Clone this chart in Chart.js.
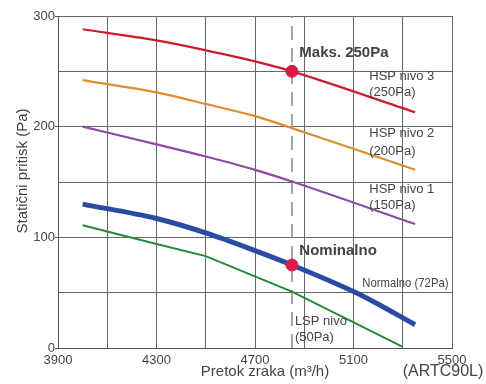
<!DOCTYPE html>
<html>
<head>
<meta charset="utf-8">
<script src="https://cdn.jsdelivr.net/npm/chart.js@4/dist/chart.umd.min.js"></script>
<style>
  html, body { margin: 0; padding: 0; background: #fff; }
  #wrap { width: 486px; height: 384px; }
</style>
</head>
<body>
<div id="wrap"><canvas id="canvas1"></canvas></div>
<script>
// airflow (m3/h) and static pressure (Pa)
var hsp3Flow = [4000, 4300, 4500, 4700, 4850, 5350];
var hsp3Pa   = [288, 278, 269, 259, 250, 213];
var hsp2Flow = [4000, 4300, 4500, 4700, 4900, 5100, 5350];
var hsp2Pa   = [242, 231, 220.5, 209.5, 195, 180, 161];
var hsp1Flow = [4000, 4300, 4500, 4700, 4850, 5350];
var hsp1Pa   = [200, 184, 173, 161, 150.5, 112];
var normFlow = [4000, 4300, 4500, 4700, 4850, 5100, 5180, 5350];
var normPa   = [130, 117, 104, 88, 75, 51, 42, 21];
var lspFlow  = [4000, 4300, 4500, 4850, 5300];
var lspPa    = [111, 94, 83, 51, 1];
var pointFlow = [4850, 4850];
var pointPa   = [250, 75];
var refFlow = 4850;

var xTickLabels = [3900, 4300, 4700, 5100, 5500];
var yTickLabels = [0, 100, 200, 300];

function toXY(xs, ys){
    var out = [];
    for(var i=0; i < xs.length; i++){
        out.push({x: xs[i], y: ys[i]});
    }
    return out;
}

var gray = '#444';

var textPlugin = {
    id: 'texts',
    afterDraw: function(chart){
        var c = chart.ctx;
        var xs = chart.scales.x, ys = chart.scales.y;
        c.save();
        c.fillStyle = gray;
        c.textBaseline = 'middle';
        c.textAlign = 'left';
        // notes next to the curves (last entry = horizontal squeeze)
        var notes = [
            ['Maks. 250Pa', 4880, 267, 'bold 15px "Liberation Sans", Arial', 1],
            ['HSP nivo 3', 5164, 245, '13px "Liberation Sans", Arial', 1],
            ['(250Pa)', 5164, 230.5, '13px "Liberation Sans", Arial', 1],
            ['HSP nivo 2', 5164, 193.5, '13px "Liberation Sans", Arial', 1],
            ['(200Pa)', 5164, 178, '13px "Liberation Sans", Arial', 1],
            ['HSP nivo 1', 5164, 143, '13px "Liberation Sans", Arial', 1],
            ['(150Pa)', 5164, 128.5, '13px "Liberation Sans", Arial', 1],
            ['Nominalno', 4880, 88, 'bold 15px "Liberation Sans", Arial', 1],
            ['Normalno (72Pa)', 5136, 58.5, '13px "Liberation Sans", Arial', 0.87],
            ['LSP nivo', 4862, 24, '13px "Liberation Sans", Arial', 1],
            ['(50Pa)', 4862, 10, '13px "Liberation Sans", Arial', 1]
        ];
        notes.forEach(function(n){
            c.save();
            c.font = n[3];
            c.translate(xs.getPixelForValue(n[1]), ys.getPixelForValue(n[2]));
            c.scale(n[4], 1);
            c.fillText(n[0], 0, 0);
            c.restore();
        });
        // axis titles
        c.font = '15px "Liberation Sans", Arial';
        c.textAlign = 'center';
        c.fillText('Pretok zraka (m\u00b3/h)', 265, 372);
        c.font = '16px "Liberation Sans", Arial';
        c.fillText('(ARTC90L)', 443, 372);
        c.translate(23, 171);
        c.rotate(-Math.PI/2);
        c.font = '15px "Liberation Sans", Arial';
        c.fillText('Stati\u010dni pritisk (Pa)', 0, 0);
        c.restore();
    }
};

var chartdata = {
    datasets: [
        {
            label: 'ref',
            data: [{x: refFlow, y: 0}, {x: refFlow, y: 300}],
            borderColor: '#8a8a8a',
            borderWidth: 1.5,
            borderDash: [14, 8],
            pointRadius: 0,
            order: 5
        },
        {
            label: 'HSP nivo 3',
            data: toXY(hsp3Flow, hsp3Pa),
            borderColor: '#c71f2f',
            borderWidth: 2.2,
            cubicInterpolationMode: 'monotone',
            pointRadius: 0,
            order: 4
        },
        {
            label: 'HSP nivo 2',
            data: toXY(hsp2Flow, hsp2Pa),
            borderColor: '#e08c2c',
            borderWidth: 2.2,
            cubicInterpolationMode: 'monotone',
            pointRadius: 0,
            order: 4
        },
        {
            label: 'HSP nivo 1',
            data: toXY(hsp1Flow, hsp1Pa),
            borderColor: '#8e4aa6',
            borderWidth: 2.2,
            cubicInterpolationMode: 'monotone',
            pointRadius: 0,
            order: 4
        },
        {
            label: 'LSP nivo',
            data: toXY(lspFlow, lspPa),
            borderColor: '#23893b',
            borderWidth: 2,
            pointRadius: 0,
            order: 4
        },
        {
            label: 'Normalno',
            data: toXY(normFlow, normPa),
            borderColor: '#2b4ba3',
            borderWidth: 5,
            cubicInterpolationMode: 'monotone',
            pointRadius: 0,
            order: 3
        },
        {
            label: 'points',
            data: toXY(pointFlow, pointPa),
            showLine: false,
            pointRadius: 6,
            pointBackgroundColor: '#d81c45',
            pointBorderColor: '#d81c45',
            order: 1
        }
    ]
};

var ctx = document.getElementById('canvas1');
var lineGraph = new Chart(ctx, {
    type: 'line',
    data: chartdata,
    plugins: [textPlugin],
    options: {
        responsive: true,
        maintainAspectRatio: false,
        animation: false,
        layout: { padding: { top: 16, right: 34, left: 0, bottom: 0 } },
        plugins: { legend: { display: false }, tooltip: { enabled: false } },
        scales: {
            x: {
                type: 'linear',
                min: 3900, max: 5500,
                ticks: {
                    stepSize: 200,
                    color: gray,
                    padding: 5,
                    maxRotation: 0,
                    autoSkip: false,
                    font: { family: '"Liberation Sans", Arial', size: 13 },
                    callback: function(v){ return xTickLabels.indexOf(v) >= 0 ? String(v) : ''; }
                },
                grid: { color: '#666', lineWidth: 1, drawTicks: false },
                border: { color: '#555', width: 1 },
                afterFit: function(s){ s.height = 36; }
            },
            y: {
                min: 0, max: 300,
                ticks: {
                    stepSize: 50,
                    color: gray,
                    padding: 0,
                    font: { family: '"Liberation Sans", Arial', size: 13 },
                    callback: function(v){ return yTickLabels.indexOf(v) >= 0 ? String(v) : ''; }
                },
                grid: {
                    color: '#666', lineWidth: 1, tickLength: 3,
                    tickColor: function(c){ return (c.tick && yTickLabels.indexOf(c.tick.value) >= 0) ? '#555' : 'rgba(0,0,0,0)'; }
                },
                border: { color: '#555', width: 1 },
                afterFit: function(s){ s.width = 58; }
            }
        }
    }
});
</script>
</body>
</html>
